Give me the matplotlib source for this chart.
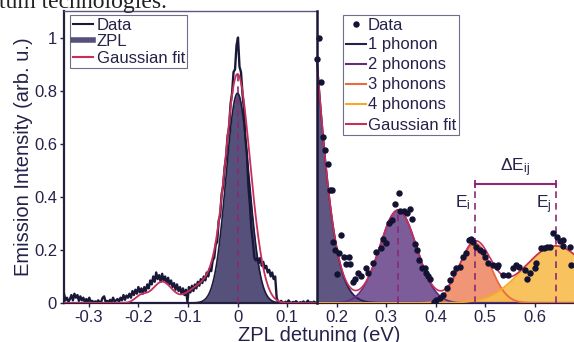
import numpy as np
import matplotlib
matplotlib.use("Agg")
import matplotlib.pyplot as plt
from matplotlib.lines import Line2D

plt.rcParams['font.family'] = ['Liberation Sans', 'DejaVu Sans']
plt.rcParams['mathtext.default'] = 'regular'
plt.rcParams['axes.unicode_minus'] = False

navy = '#25224a'

# left panel: measured spectrum around the ZPL (x from -0.35 to 0.157, step 0.003)
zpl_x_start, zpl_x_stop = -0.35, 0.157
zpl_data = [0.035, 0.01, 0.02, 0.005, 0.015, 0.03, 0.01, 0.035, 0.02, 0.03, 0.008, 0.025, 0.01, 0.02,
            0.003, 0.015, 0.005, 0.02, 0.004, 0.008, 0.002, 0.006, 0.003, 0.01, 0.002, 0.005, 0.02, 0.025,
            0.004, 0.008, 0.003, 0.012, 0.004, 0.02, 0.005, 0.01, 0.015, 0.004, 0.02, 0.01, 0.03, 0.012,
            0.028, 0.02,
            0.035, 0.02, 0.045, 0.03, 0.05, 0.035, 0.06, 0.04, 0.055, 0.035, 0.06, 0.045, 0.07, 0.055,
            0.085, 0.07, 0.1, 0.08, 0.115, 0.09, 0.105, 0.08, 0.11, 0.085, 0.1, 0.075, 0.095, 0.07,
            0.085, 0.06, 0.075, 0.05, 0.07, 0.045, 0.06, 0.035, 0.055, 0.03, 0.05, 0.005, 0.06, 0.04,
            0.065, 0.045, 0.07, 0.055, 0.08, 0.065, 0.09, 0.075, 0.1, 0.085, 0.115, 0.1, 0.13, 0.12, 0.16,
            0.17, 0.22, 0.23, 0.31, 0.33, 0.41, 0.44, 0.51, 0.55, 0.63, 0.66, 0.75, 0.79, 0.87, 0.88,
            0.97, 1.0, 0.89, 0.87, 0.79, 0.73, 0.62, 0.56, 0.44, 0.37, 0.28, 0.23, 0.17, 0.16, 0.17,
            0.15, 0.17, 0.14, 0.155, 0.13, 0.14, 0.115, 0.125, 0.1, 0.115, 0.09, 0.1, 0.02,
            0.003, 0.0, 0.008, 0.002, 0.0, 0.005, 0.0, 0.01, 0.002, 0.0, 0.004, 0.0, 0.007, 0.001,
            0.0, 0.003, 0.0, 0.006, 0.0, 0.002, 0.009, 0.0, 0.003, 0.0, 0.005, 0.002]

# ZPL gaussian (center, amplitude, sigma) and the components of the left fit
zpl_peak = (0.0, 0.79, 0.023)
left_fit_centers = [0.0, -0.04, -0.09, -0.152, -0.195, 0.035]
left_fit_amps = [0.80, 0.10, 0.03, 0.08, 0.025, 0.10]
left_fit_sigmas = [0.023, 0.03, 0.02, 0.02, 0.012, 0.02]

# right panel: phonon sideband points
pts_x = [0.164, 0.160, 0.168, 0.173, 0.177, 0.1825, 0.186, 0.1905, 0.1926, 0.2087, 0.196, 0.2047,
         0.214, 0.224, 0.2195, 0.2276, 0.2006, 0.243, 0.233, 0.238, 0.249, 0.2586, 0.264, 0.273,
         0.28, 0.2895, 0.2936, 0.3004, 0.305, 0.311, 0.317, 0.326, 0.327, 0.335, 0.341, 0.3475,
         0.353, 0.3576, 0.362, 0.366, 0.373, 0.378, 0.381, 0.384, 0.388, 0.396, 0.401, 0.408,
         0.415, 0.4216, 0.428, 0.435, 0.44, 0.4485, 0.454, 0.46, 0.4667, 0.4707, 0.475, 0.482,
         0.4889, 0.4943, 0.4996, 0.5057, 0.5158, 0.5226, 0.526, 0.536, 0.546, 0.556, 0.5616,
         0.5683, 0.58, 0.5845, 0.591, 0.60, 0.603, 0.6115, 0.618, 0.6236, 0.630, 0.637, 0.6438,
         0.650, 0.656, 0.657, 0.6707, 0.672]
pts_y = [1.00, 0.92, 0.834, 0.624, 0.577, 0.523, 0.424, 0.426, 0.231, 0.257, 0.20, 0.187,
         0.175, 0.172, 0.146, 0.146, 0.109, 0.114, 0.08, 0.092, 0.10, 0.13, 0.114, 0.15,
         0.194, 0.206, 0.24, 0.225, 0.30, 0.313, 0.374, 0.416, 0.347, 0.347, 0.34, 0.355,
         0.317, 0.221, 0.20, 0.162, 0.131, 0.133, 0.112, 0.10, 0.089, 0.005, 0.011, 0.018,
         0.03, 0.055, 0.087, 0.112, 0.131, 0.137, 0.175, 0.187, 0.238, 0.24, 0.228, 0.212,
         0.20, 0.194, 0.175, 0.15, 0.143, 0.137, 0.143, 0.106, 0.106, 0.131, 0.143,
         0.137, 0.125, 0.089, 0.112, 0.131, 0.15, 0.206, 0.206, 0.212, 0.21, 0.263, 0.25,
         0.235, 0.238, 0.215, 0.212, 0.143]

# phonon gaussians: center, amplitude, sigma
phonon_labels = ['1 phonon', '2 phonons', '3 phonons', '4 phonons']
phonon_centers = [0.108, 0.324, 0.479, 0.642]
phonon_amps = [1.85, 0.35, 0.225, 0.215]
phonon_sigmas = [0.044, 0.037, 0.032, 0.065]
phonon_lines = ['#27204f', '#5d2e84', '#ec6a40', '#f6a928']
phonon_fills = ['#4d4374', '#6f4a8f', '#ef8a66', '#f8bd4c']

ei, ej, de_level = 0.479, 0.642, 0.449


def gauss(x, c, a, s):
    return a * np.exp(-(x - c) ** 2 / (2 * s ** 2))


fig = plt.figure(figsize=(5.74, 3.42), dpi=100)
ax = fig.add_axes([64 / 574, 39 / 342, 510 / 574, 292 / 342])
ax.set_xlim(-0.35, 0.6788)
ax.set_ylim(0, 1.1)

# ---- left panel ----
xd = np.linspace(zpl_x_start, zpl_x_stop, len(zpl_data))
xl = np.linspace(-0.35, 0.16, 800)
zpl = gauss(xl, *zpl_peak)
ax.fill_between(xl, 0, zpl, color='#55517a', lw=0, zorder=2)
ax.plot(xl, zpl, color='#1c1a3c', lw=1.2, zorder=3)
ax.plot(xd, zpl_data, color='#1a1838', lw=1.7, zorder=4)
fit_l = sum(gauss(xl, c, a, s) for c, a, s in zip(left_fit_centers, left_fit_amps, left_fit_sigmas))
ax.plot(xl, fit_l, color='#c92f5a', lw=1.3, zorder=5)
ax.plot([0, 0], [0, 0.86], color='#8c2876', lw=1.2, ls=(0, (4, 3)), zorder=6)

# ---- right panel ----
xr = np.linspace(0.16, 0.6788, 800)
total = np.zeros_like(xr)
for c, a, s, lc, fc in zip(phonon_centers, phonon_amps, phonon_sigmas, phonon_lines, phonon_fills):
    g = gauss(xr, c, a, s)
    total += g
    ax.fill_between(xr, 0, g, color=fc, alpha=0.9, lw=0, zorder=2)
    ax.plot(xr, g, color=lc, lw=1.3, zorder=3)
ax.plot(xr, total, color='#c92f5a', lw=1.2, zorder=3.5)
ax.plot(pts_x, pts_y, 'o', color='#141233', ms=3.6, zorder=7)

for xc, top in [(phonon_centers[1], phonon_amps[1]), (ei, de_level), (ej, de_level)]:
    ax.plot([xc, xc], [0, top], color='#8c2876', lw=1.2, ls=(0, (4, 3)), zorder=6)
ax.plot([ei, ej], [de_level, de_level], color='#8c2876', lw=1.5, marker='|', ms=6, mew=1.3, zorder=6)
ax.text((ei + ej) / 2, de_level + 0.018, r'$\Delta E_{ij}$', ha='center', va='bottom',
        fontsize=12.5, color=navy)
ax.text(ei - 0.008, de_level - 0.035, r'$E_i$', ha='right', va='top', fontsize=12.5, color=navy)
ax.text(ej - 0.008, de_level - 0.035, r'$E_j$', ha='right', va='top', fontsize=12.5, color=navy)

# ---- frame ----
for side in ['top', 'right']:
    ax.spines[side].set_visible(False)
for side in ['left', 'bottom']:
    ax.spines[side].set_color('#232040')
    ax.spines[side].set_linewidth(1.6)
ax.plot([-0.35, 0.16], [1.1, 1.1], color='#5a5880', lw=1.0, clip_on=False, zorder=8)
ax.plot([0.16, 0.16], [0, 1.1], color='#1a1838', lw=1.8, clip_on=False, zorder=8)

ax.set_xticks([-0.3, -0.2, -0.1, 0, 0.1, 0.2, 0.3, 0.4, 0.5, 0.6])
ax.set_xticklabels(['-0.3', '-0.2', '-0.1', '0', '0.1', '0.2', '0.3', '0.4', '0.5', '0.6'])
ax.set_yticks([0, 0.2, 0.4, 0.6, 0.8, 1])
ax.set_yticklabels(['0', '0.2', '0.4', '0.6', '0.8', '1'])
ax.tick_params(labelsize=12, colors=navy, length=3, width=1, pad=2)
ax.set_xlabel('ZPL detuning (eV)', fontsize=14.5, color=navy, labelpad=1)
ax.set_ylabel('Emission Intensity (arb. u.)', fontsize=14.5, color=navy, labelpad=1)

# ---- legends ----
h1 = [Line2D([], [], color='#1a1838', lw=1.5),
      Line2D([], [], color='#55517a', lw=4),
      Line2D([], [], color='#c92f5a', lw=1.5)]
leg1 = ax.legend(h1, ['Data', 'ZPL', 'Gaussian fit'], loc='upper left',
                 bbox_to_anchor=(6 / 510, 288 / 292), borderaxespad=0, fontsize=12,
                 fancybox=False, edgecolor='#6e6d8c', framealpha=1, handlelength=1.2,
                 handletextpad=0.25, labelspacing=0.1, borderpad=0.15, labelcolor=navy)
leg1.get_frame().set_linewidth(0.8)
ax.add_artist(leg1)

h2 = [Line2D([], [], color='#141233', marker='o', ls='none', ms=3.6)]
h2 += [Line2D([], [], color=c, lw=1.5) for c in phonon_lines]
h2 += [Line2D([], [], color='#c92f5a', lw=1.5)]
leg2 = ax.legend(h2, ['Data'] + phonon_labels + ['Gaussian fit'], loc='upper left',
                 bbox_to_anchor=(279 / 510, 288 / 292), borderaxespad=0, fontsize=12,
                 fancybox=False, edgecolor='#6e6d8c', framealpha=1, handlelength=1.2,
                 handletextpad=0.15, labelspacing=0.3, borderpad=0.15, labelcolor=navy)
leg2.get_frame().set_linewidth(0.8)

# tail of the sentence above the figure in the source page
fig.text(167 / 574, 1 - 8 / 342, 'quantum technologies.', ha='right', va='baseline',
         family='Liberation Serif', fontsize=17, color='#222222')

fig.savefig('out.png', dpi=100)
